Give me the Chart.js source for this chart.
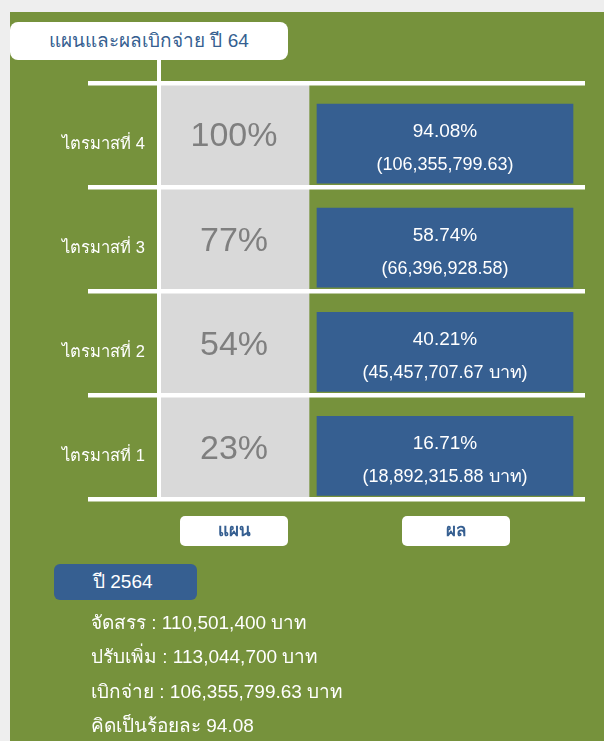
<!DOCTYPE html>
<html lang="th">
<head>
<meta charset="utf-8">
<title>แผนและผลเบิกจ่าย ปี 64</title>
<script src="https://cdn.jsdelivr.net/npm/chart.js@4.4.0/dist/chart.umd.min.js"></script>
<style>
  body { margin: 0; background: #eeeeee; font-family: "Liberation Sans", Arial, sans-serif; }
  .panel { position: absolute; left: 10px; top: 12px; width: 594px; height: 729px; background: #76923c; overflow: hidden; }
  .panel canvas { position: absolute; left: 0; top: 0; }
  .title { position: absolute; left: 0; top: 10px; width: 278px; height: 38px; background: #fff; border-radius: 8px;
           color: #365f91; font-size: 19px; line-height: 38px; text-align: center; }
  .year { position: absolute; left: 44px; top: 552px; width: 104px; height: 36px; padding-left: 39px; background: #365f91;
          border-radius: 6px; color: #fff; font-size: 19px; line-height: 36px; }
  .summary { position: absolute; left: 81px; top: 594px; margin: 0; padding: 0; list-style: none; color: #fff; font-size: 19px; line-height: 34.3px; }
</style>
</head>
<body>
<div class="panel">
  <div style="position:absolute;left:0;top:0;width:594px;height:729px"><canvas id="chart"></canvas></div>
  <div class="title">แผนและผลเบิกจ่าย ปี 64</div>
  <div class="year" id="year"></div>
  <ul class="summary" id="summary"></ul>
</div>
<script>
// quarterly plan vs. actual disbursement, fiscal year 64
const quarters = ['ไตรมาสที่ 1', 'ไตรมาสที่ 2', 'ไตรมาสที่ 3', 'ไตรมาสที่ 4'];
const columns = ['แผน', 'ผล'];
const planPct = [23, 54, 77, 100];
const resultPct = [16.71, 40.21, 58.74, 94.08];
const resultBaht = [18892315.88, 45457707.67, 66396928.58, 106355799.63];
const bahtUnit = ['บาท', 'บาท', '', ''];

// yearly summary
const fiscalYear = 2564;
const allocated = 110501400;
const adjusted = 113044700;
const disbursed = 106355799.63;
const disbursedPct = 94.08;

const GREEN = '#76923c';
const BLUE = '#365f91';
const FONT = '"Liberation Sans", Arial, sans-serif';

// the plan column covers x 0..1, the result column 1..RESULT_END
const PLAN_END = 1;
const RESULT_END = 2.84;

const money = v => v.toLocaleString('en-US', { minimumFractionDigits: 2, maximumFractionDigits: 2 });
const intMoney = v => v.toLocaleString('en-US');

document.getElementById('year').textContent = 'ปี ' + fiscalYear;
const lines = [
  'จัดสรร : ' + intMoney(allocated) + ' บาท',
  'ปรับเพิ่ม : ' + intMoney(adjusted) + ' บาท',
  'เบิกจ่าย : ' + money(disbursed) + ' บาท',
  'คิดเป็นร้อยละ ' + disbursedPct.toFixed(2)
];
document.getElementById('summary').innerHTML = lines.map(t => '<li>' + t + '</li>').join('');

const cellText = {
  id: 'cellText',
  afterDatasetsDraw(chart) {
    const { ctx, scales: { x, y } } = chart;
    ctx.save();
    ctx.textAlign = 'center';
    ctx.textBaseline = 'middle';
    quarters.forEach((q, i) => {
      const cy = y.getPixelForValue(i);
      ctx.fillStyle = '#7f7f7f';
      ctx.font = '34px ' + FONT;
      ctx.fillText(planPct[i] + '%', x.getPixelForValue(PLAN_END / 2), cy + 2);

      const bx = (x.getPixelForValue(PLAN_END) + 8 + x.getPixelForValue(RESULT_END) - 12) / 2;
      ctx.fillStyle = '#fff';
      ctx.font = '19px ' + FONT;
      ctx.fillText(resultPct[i].toFixed(2) + '%', bx, cy - 3.5);
      const unit = bahtUnit[i] ? ' ' + bahtUnit[i] : '';
      ctx.font = '18px ' + FONT;
      ctx.fillText('(' + money(resultBaht[i]) + unit + ')', bx, cy + 30);
    });
    ctx.restore();
  }
};

const decorations = {
  id: 'decorations',
  afterDraw(chart) {
    const { ctx, chartArea, scales: { x } } = chart;
    ctx.save();
    // connector from the title box down to the grid
    ctx.fillStyle = '#fff';
    ctx.fillRect(chartArea.left - 2, 48, 4, chartArea.top - 48);

    // column captions under the grid
    const centers = [x.getPixelForValue(PLAN_END / 2), x.getPixelForValue(1.98)];
    columns.forEach((c, i) => {
      ctx.fillStyle = '#fff';
      ctx.beginPath();
      ctx.roundRect(centers[i] - 54, chartArea.bottom + 16.5, 108, 30, 5);
      ctx.fill();
      ctx.fillStyle = BLUE;
      ctx.font = 'bold 17px ' + FONT;
      ctx.textAlign = 'center';
      ctx.textBaseline = 'middle';
      ctx.fillText(c, centers[i], chartArea.bottom + 32);
    });
    ctx.restore();
  }
};

new Chart(document.getElementById('chart'), {
  type: 'bar',
  data: {
    labels: quarters,
    datasets: [{
      label: columns[0],
      data: planPct.map(() => [0, PLAN_END]),
      backgroundColor: '#d9d9d9',
      borderWidth: 0,
      grouped: false,
      barPercentage: 1,
      categoryPercentage: 1
    }, {
      label: columns[1],
      data: resultPct.map(() => [PLAN_END, RESULT_END]),
      backgroundColor: BLUE,
      borderColor: GREEN,
      borderWidth: { top: 21, bottom: 4, left: 8, right: 12 },
      borderSkipped: false,
      grouped: false,
      barPercentage: 1,
      categoryPercentage: 1
    }]
  },
  options: {
    indexAxis: 'y',
    responsive: true,
    maintainAspectRatio: false,
    animation: false,
    layout: { padding: { left: 0, top: 71, right: 19, bottom: 241.5 } },
    scales: {
      x: { type: 'linear', min: 0, max: RESULT_END, display: false },
      y: {
        type: 'category',
        reverse: true,
        grid: { color: '#fff', lineWidth: 4.5, tickLength: 71, offset: true, z: 1 },
        border: { color: '#fff', width: 4, z: 1 },
        ticks: { color: '#fff', font: { size: 16.5, family: FONT }, padding: -57, labelOffset: 9 },
        afterFit(scale) { scale.width = 149; }
      }
    },
    plugins: {
      legend: { display: false },
      tooltip: { enabled: false }
    }
  },
  plugins: [cellText, decorations]
});
</script>
</body>
</html>
